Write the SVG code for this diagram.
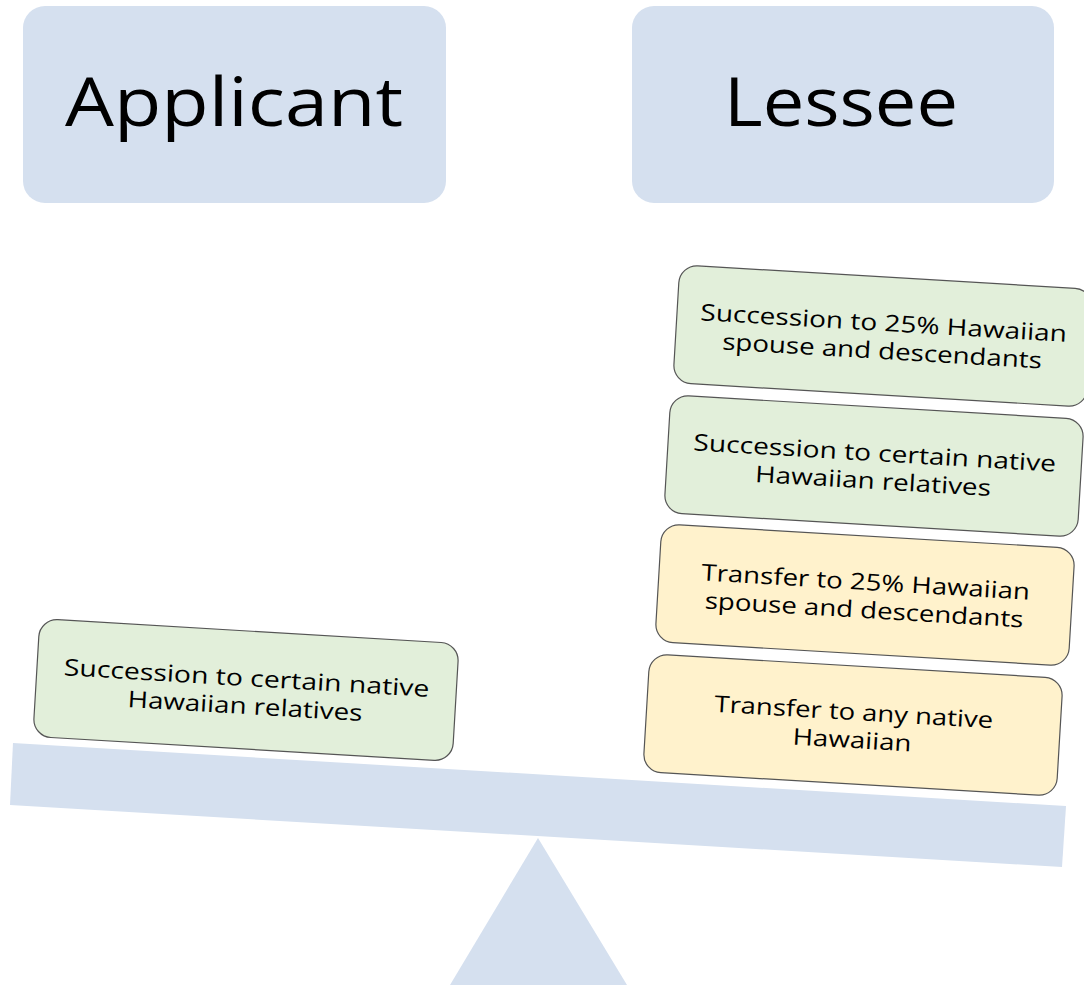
<svg xmlns="http://www.w3.org/2000/svg" width="1084" height="985" viewBox="0 0 1084 985">
<style>
.hdr{fill:#d5e0ef}
.htxt{font-family:"Open Sans","Liberation Sans",sans-serif;font-size:68px;fill:#000;text-anchor:middle}
.bx{stroke:#555;stroke-width:1.2}
.g{fill:#e2efda}
.y{fill:#fff2cc}
.t{font-family:"Open Sans","Liberation Sans",sans-serif;font-size:23px;fill:#000;text-anchor:middle}
.base{fill:#d5e0ef}
</style>
<rect width="1084" height="985" fill="#fff"/>
<g id="fulcrum"><polygon class="base" points="538,838 450,985 627,985"/></g>
<g id="beam"><polygon class="base" points="13,743 1066,806 1062,867 10,805"/></g>
<g id="applicant">
<rect class="hdr" x="23" y="6" width="423" height="197" rx="22"/>
<text class="htxt" x="234" y="126" textLength="338" lengthAdjust="spacingAndGlyphs">Applicant</text>
</g>
<g id="lessee">
<rect class="hdr" x="632" y="6" width="422" height="197" rx="22"/>
<text class="htxt" x="841" y="126" textLength="234" lengthAdjust="spacingAndGlyphs">Lessee</text>
</g>
<g id="app-succession" transform="translate(246,690) rotate(3.4)">
<rect class="bx g" x="-210" y="-59" width="420" height="118" rx="18"/>
<text class="t" x="0" y="-4" textLength="366" lengthAdjust="spacingAndGlyphs">Succession to certain native</text>
<text class="t" x="0" y="24" textLength="235" lengthAdjust="spacingAndGlyphs">Hawaiian relatives</text>
</g>
<g id="les-succession-25" transform="translate(883,336) rotate(3.4)">
<rect class="bx g" x="-207" y="-59" width="414" height="118" rx="18"/>
<text class="t" x="0" y="-5" textLength="367" lengthAdjust="spacingAndGlyphs">Succession to 25% Hawaiian</text>
<text class="t" x="0" y="23" textLength="320" lengthAdjust="spacingAndGlyphs">spouse and descendants</text>
</g>
<g id="les-succession-native" transform="translate(874,466) rotate(3.4)">
<rect class="bx g" x="-207" y="-59" width="414" height="118" rx="18"/>
<text class="t" x="0" y="-5" textLength="363" lengthAdjust="spacingAndGlyphs">Succession to certain native</text>
<text class="t" x="0" y="23" textLength="236" lengthAdjust="spacingAndGlyphs">Hawaiian relatives</text>
</g>
<g id="les-transfer-25" transform="translate(865,595) rotate(3.4)">
<rect class="bx y" x="-207" y="-59" width="414" height="118" rx="18"/>
<text class="t" x="0" y="-5" textLength="329" lengthAdjust="spacingAndGlyphs">Transfer to 25% Hawaiian</text>
<text class="t" x="0" y="23" textLength="319" lengthAdjust="spacingAndGlyphs">spouse and descendants</text>
</g>
<g id="les-transfer-any" transform="translate(853,725) rotate(3.4)">
<rect class="bx y" x="-207" y="-59" width="414" height="118" rx="18"/>
<text class="t" x="0" y="-5" textLength="279" lengthAdjust="spacingAndGlyphs">Transfer to any native</text>
<text class="t" x="0" y="23" textLength="119" lengthAdjust="spacingAndGlyphs">Hawaiian</text>
</g>
<g id="connectors"/>
</svg>
